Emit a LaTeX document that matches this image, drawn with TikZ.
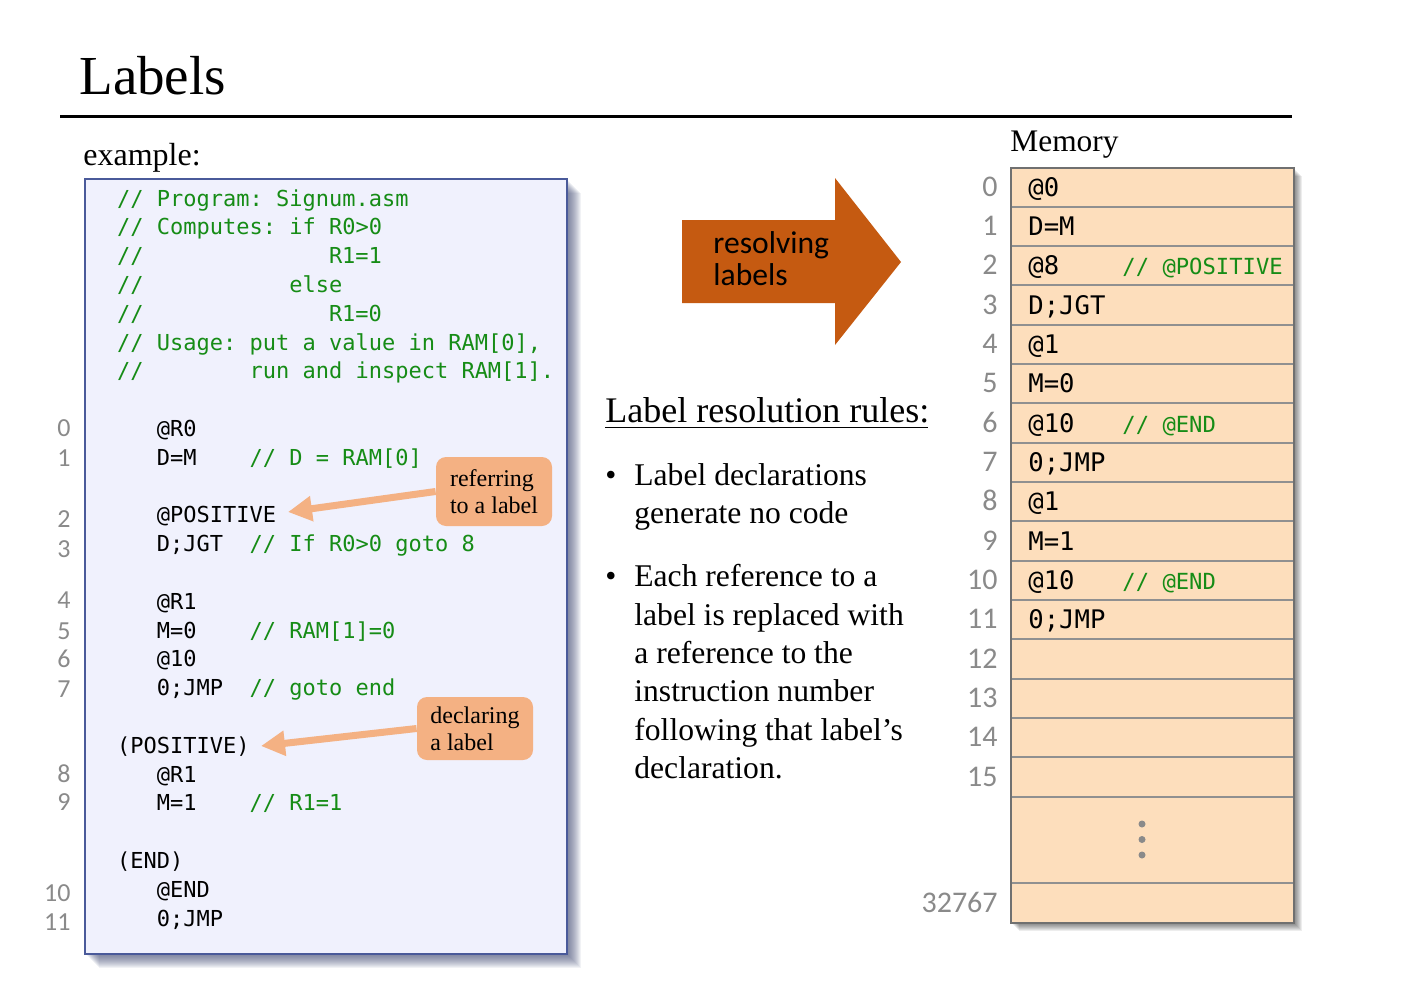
\documentclass[tikz,border=0pt]{standalone}
\usepackage{fontspec}
\setmainfont{Liberation Serif}
\newfontfamily\cmono{DejaVu Sans Mono}
\newfontfamily\ccal{Carlito}
\usetikzlibrary{arrows.meta}
\frenchspacing
\definecolor{cgreen}{HTML}{168C16}
\definecolor{codebg}{HTML}{F0F1FD}
\definecolor{codeborder}{HTML}{4A5A9A}
\definecolor{codeshadow}{HTML}{3A4470}
\definecolor{numgray}{HTML}{8A8A8A}
\definecolor{callfill}{HTML}{F4B183}
\definecolor{resolvecol}{HTML}{C55A11}
\definecolor{memfill}{HTML}{FDDEBC}
\definecolor{memline}{HTML}{909090}
\definecolor{memborder}{HTML}{707070}
\begin{document}
\begin{tikzpicture}[x=0.5pt,y=-0.5pt,
 txt/.style={inner sep=0pt, anchor=base west},
 codetxt/.style={txt, font=\cmono\fontsize{11}{13}\selectfont},
 cmt/.style={codetxt, text=cgreen},
 lnum/.style={inner sep=0pt, anchor=base east, text=numgray, font=\ccal\fontsize{13}{14}\selectfont},
 mnum/.style={inner sep=0pt, anchor=base east, text=numgray, font=\ccal\fontsize{15}{16}\selectfont},
 mcode/.style={txt, font=\cmono\fontsize{12.8}{14}\selectfont},
 mcmt/.style={txt, text=cgreen, font=\cmono\fontsize{11.1}{13}\selectfont},
 serifsixteen/.style={txt, font=\fontsize{16}{19}\selectfont},
 bodytxt/.style={txt, font=\fontsize{15.8}{19}\selectfont},
 callout/.style={fill=callfill, rounded corners=5pt, align=left, inner sep=0pt, font=\fontsize{12}{13.7}\selectfont, minimum width=58pt},
 callarrow/.style={draw=callfill, line width=3.5pt, -{Triangle[length=12pt,width=12pt]}},
 restxt/.style={txt, font=\ccal\fontsize{15.8}{16}\selectfont},
]
\useasboundingbox (0,0) rectangle (1408,1006);
\fill[white] (0,0) rectangle (1408,1006);

% title
\node[txt, font=\fontsize{27.5}{30}\selectfont] (title) at (79,95) {Labels};
\draw[line width=1.5pt] (60,117) -- (1292,117);
\node[serifsixteen] (example) at (83,165) {example:};

% code box
\foreach \d in {1,...,14} \fill[codeshadow, opacity=0.065] (85+\d,179+\d) rectangle (567+\d,954+\d);
\draw[codeborder, fill=codebg, line width=1pt] (85,179) rectangle (567,954);

\node[cmt] (c0) at (116.8,206) {// Program: Signum.asm};
\node[cmt] (c1) at (116.8,234.8) {// Computes: if R0>0};
\node[cmt] (c2a) at (116.8,263.6) {//};
\node[cmt] (c2b) at (328.6,263.6) {R1=1};
\node[cmt] (c3a) at (116.8,292.4) {//};
\node[cmt] (c3b) at (288.9,292.4) {else};
\node[cmt] (c4a) at (116.8,321.2) {//};
\node[cmt] (c4b) at (328.6,321.2) {R1=0};
\node[cmt] (c5) at (116.8,350) {// Usage: put a value in RAM[0],};
\node[cmt] (c6a) at (116.8,378.8) {//};
\node[cmt] (c6b) at (249.2,378.8) {run and inspect RAM[1].};
\node[codetxt] (c8) at (156.5,436.4) {@R0};
\node[codetxt] (c9) at (156.5,465.2) {D=M};
\node[cmt] (c9c) at (249.2,465.2) {// D = RAM[0]};
\node[codetxt] (c11) at (156.5,522.8) {@POSITIVE};
\node[codetxt] (c12) at (156.5,551.6) {D;JGT};
\node[cmt] (c12c) at (249.2,551.6) {// If R0>0 goto 8};
\node[codetxt] (c14) at (156.5,609.2) {@R1};
\node[codetxt] (c15) at (156.5,638) {M=0};
\node[cmt] (c15c) at (249.2,638) {// RAM[1]=0};
\node[codetxt] (c16) at (156.5,666.8) {@10};
\node[codetxt] (c17) at (156.5,695.6) {0;JMP};
\node[cmt] (c17c) at (249.2,695.6) {// goto end};
\node[codetxt] (c19) at (116.8,753.2) {(POSITIVE)};
\node[codetxt] (c20) at (156.5,782) {@R1};
\node[codetxt] (c21) at (156.5,810.8) {M=1};
\node[cmt] (c21c) at (249.2,810.8) {// R1=1};
\node[codetxt] (c23) at (116.8,868.4) {(END)};
\node[codetxt] (c24) at (156.5,897.2) {@END};
\node[codetxt] (c25) at (156.5,926) {0;JMP};

\foreach \n/\y in {0/436,1/466,2/527,3/557,4/608,5/639,6/667,7/697,8/782,9/810,10/901,11/930}
  \node[lnum] (ln\n) at (71,\y) {\n};

% callouts
\node[callout, minimum height=34.5pt] (ref) at (494,491.5) {referring\\to a label};
\coordinate (tipref) at (288,512);
\draw[callarrow] (ref.west) -- (tipref);
\node[callout, minimum height=31.5pt] (dec) at (475,728.5) {declaring\\a label};
\coordinate (tipdec) at (261,746);
\draw[callarrow] (dec.west) -- (tipdec);

% resolving arrow
\fill[resolvecol] (682,220) -- (835,220) -- (835,178) -- (901,262) -- (835,345) -- (835,303) -- (682,303) -- cycle;
\node[restxt] (res1) at (713,253) {resolving};
\node[restxt] (res2) at (713,285) {labels};

% rules
\node[txt, font=\fontsize{18}{20}\selectfont] (lrr) at (605,422) {Label resolution rules:};
\draw[line width=0.75pt] (605,427.5) -- (928,427.5);
\node[bodytxt] (b1) at (605,485) {•};
\node[bodytxt] (t1a) at (634,485) {Label declarations};
\node[bodytxt] (t1b) at (634,523.5) {generate no code};
\node[bodytxt] (b2) at (605,586.7) {•};
\node[bodytxt] (t2a) at (634,586.7) {Each reference to a};
\node[bodytxt] (t2b) at (634,625) {label is replaced with};
\node[bodytxt] (t2c) at (634,663.3) {a reference to the};
\node[bodytxt] (t2d) at (634,701.6) {instruction number};
\node[bodytxt] (t2e) at (634,740) {following that label’s};
\node[bodytxt] (t2f) at (634,778.3) {declaration.};

% memory
\node[txt, font=\fontsize{15.7}{18}\selectfont] (memtitle) at (1010,151) {Memory};
\foreach \d in {1,...,8} \fill[black, opacity=0.07] (1011+\d,167.5+\d) rectangle (1294+\d,923.3+\d);
\fill[memfill] (1011,167.5) rectangle (1294,923.3);
\foreach \i in {1,...,16} \draw[memline, line width=1pt] (1011,167.5+39.33*\i) -- (1294,167.5+39.33*\i);
\draw[memline, line width=1pt] (1011,883.3) -- (1294,883.3);
\draw[memborder, line width=1pt] (1011,167.5) rectangle (1294,923.3);
\foreach \i in {0,...,15} \node[mnum] (mn\i) at (998,196.2+39.33*\i) {\i};
\node[mnum] (mnlast) at (998,912.3) {32767};
\foreach \y/\n in {824/1,839.5/2,855/3} \fill[numgray] (1142,\y) circle (1.75pt);

\foreach \i/\t in {0/@0,1/D=M,2/@8,3/D;JGT,4/@1,5/M=0,6/@10,7/0;JMP,8/@1,9/M=1,10/@10,11/0;JMP}
  \node[mcode] (mc\i) at (1028,196.2+39.33*\i) {\t};
\node[mcmt] (mk2) at (1122,196.2+39.33*2) {// @POSITIVE};
\node[mcmt] (mk6) at (1122,196.2+39.33*6) {// @END};
\node[mcmt] (mk10) at (1122,196.2+39.33*10) {// @END};
\end{tikzpicture}
\end{document}
